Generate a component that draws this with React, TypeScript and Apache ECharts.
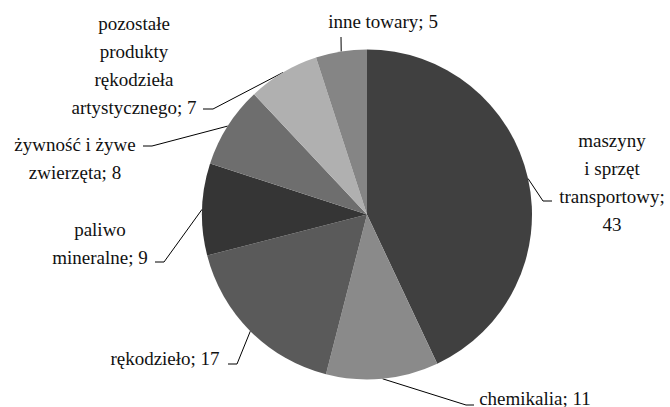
import React, { useEffect, useRef } from "react";
import * as echarts from "echarts";

const categories = [
  "maszyny i sprzęt transportowy",
  "chemikalia",
  "rękodzieło",
  "paliwo mineralne",
  "żywność i żywe zwierzęta",
  "pozostałe produkty rękodzieła artystycznego",
  "inne towary",
];
const values = [43, 11, 17, 9, 8, 7, 5];
const wrappedNames = [
  "maszyny\ni sprzęt\ntransportowy",
  "chemikalia",
  "rękodzieło",
  "paliwo\nmineralne",
  "żywność i żywe\nzwierzęta",
  "pozostałe\nprodukty\nrękodzieła\nartystycznego",
  "inne towary",
];
const valueSeparators = ["\n", " ", " ", " ", " ", " ", " "];
const colors = ["#404040", "#8a8a8a", "#5a5a5a", "#353535", "#6e6e6e", "#b0b0b0", "#858585"];

// label layout (positions of label blocks and leader-line ends)
const labelPos = [
  { x: 612, y: 182 },
  { x: 535, y: 398 },
  { x: 165, y: 358 },
  { x: 100, y: 243 },
  { x: 75, y: 158 },
  { x: 134, y: 65 },
  { x: 383, y: 21 },
];
const lineEnds = [
  [[543, 201], [552, 201]],
  [[466, 405], [474, 405]],
  [[237, 364], [228, 364]],
  [[164, 262], [155, 262]],
  [[152, 146], [143, 146]],
  [[213, 109], [203, 109]],
  [[341, 37], [341, 37]],
];

const CX = 367;
const CY = 214.5;
const R = 165;
const FONT = "Liberation Serif";

export default function App() {
  const ref = useRef<HTMLDivElement>(null);
  useEffect(() => {
    if (!ref.current) return;
    const chart = echarts.init(ref.current, undefined, { renderer: "svg" });
    const total = values.reduce((a, b) => a + b, 0);
    const startFor = (i: number) => {
      let cum = 0;
      for (let k = 0; k < i; k++) cum += values[k];
      const mid = ((cum + values[i] / 2) / total) * Math.PI * 2;
      return [CX + R * Math.sin(mid), CY - R * Math.cos(mid)];
    };
    const labelStyle = {
      fontFamily: FONT,
      fontSize: 19,
      lineHeight: 28,
      color: "#111111",
      align: "center",
    };
    chart.setOption({
      animation: false,
      backgroundColor: "#ffffff",
      textStyle: { fontFamily: FONT },
      series: [
        {
          type: "pie",
          center: [CX, CY],
          radius: [0, R],
          startAngle: 90,
          clockwise: true,
          avoidLabelOverlap: false,
          data: categories.map((name, i) => ({
            name,
            value: values[i],
            itemStyle: { color: colors[i] },
            label: {
              ...labelStyle,
              lineHeight:
                wrappedNames[i].includes("\n") || valueSeparators[i] === "\n" ? 28 : 20,
            },
          })),
          label: {
            show: true,
            position: "outside",
            ...labelStyle,
            formatter: (p: any) =>
              `${wrappedNames[p.dataIndex]};${valueSeparators[p.dataIndex]}${p.value}`,
          },
          labelLine: {
            show: true,
            lineStyle: { color: "#000000", width: 1 },
          },
          labelLayout: (params: any) => {
            const i = params.dataIndex;
            const start =
              params.labelLinePoints && params.labelLinePoints[0]
                ? params.labelLinePoints[0]
                : startFor(i);
            return {
              x: labelPos[i].x,
              y: labelPos[i].y,
              align: "center",
              verticalAlign: "middle",
              labelLinePoints: [start, lineEnds[i][0], lineEnds[i][1]],
            };
          },
          emphasis: { disabled: true },
        },
      ],
    });
    return () => chart.dispose();
  }, []);
  return (
    <div
      ref={ref}
      style={{ position: "fixed", left: 0, top: 0, width: 670, height: 407 }}
    />
  );
}
